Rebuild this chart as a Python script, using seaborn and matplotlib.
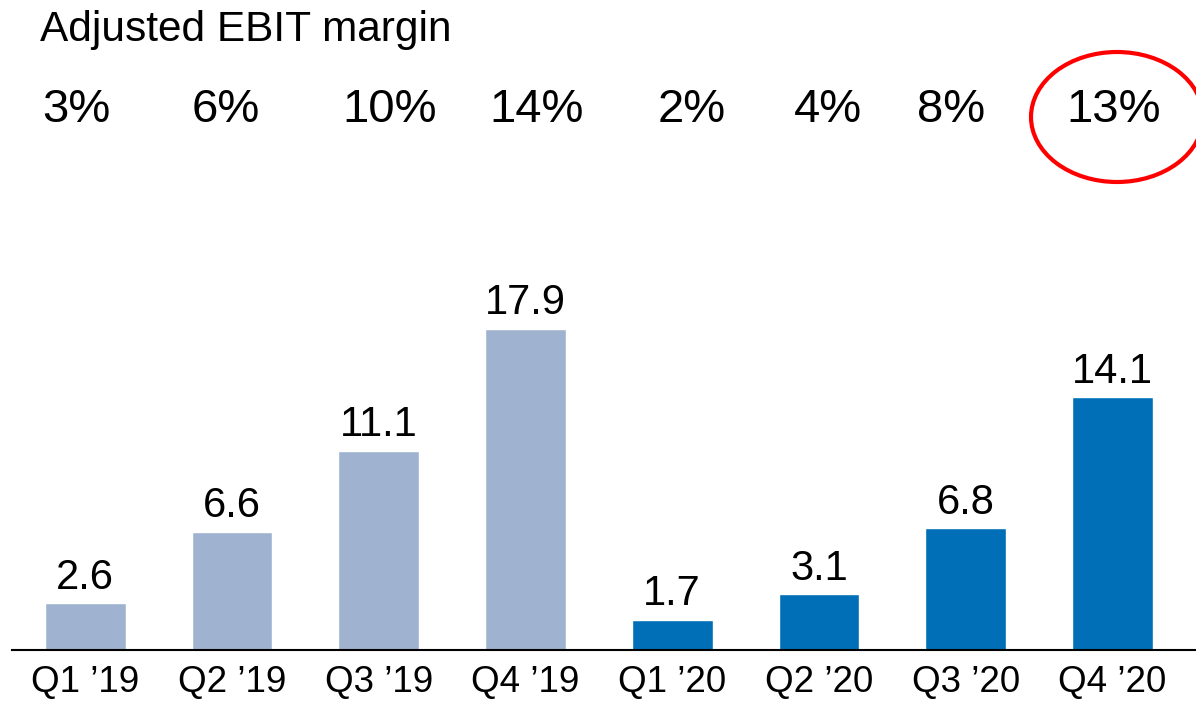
import matplotlib
matplotlib.use("Agg")
import matplotlib.pyplot as plt
from matplotlib.patches import Ellipse
import pandas as pd
import seaborn as sns

# --- datos ---
quarters = ["Q1 \u201919", "Q2 \u201919", "Q3 \u201919", "Q4 \u201919",
            "Q1 \u201920", "Q2 \u201920", "Q3 \u201920", "Q4 \u201920"]
ebit = [2.6, 6.6, 11.1, 17.9, 1.7, 3.1, 6.8, 14.1]
year = ["2019"] * 4 + ["2020"] * 4
margins = ["3%", "6%", "10%", "14%", "2%", "4%", "8%", "13%"]
margin_x_px = [76, 226, 390, 537, 692, 828, 951, 1114]

colors = {"2019": "#9FB2CF", "2020": "#006FB8"}

sns.set_style("white")
plt.rcParams["font.family"] = ["Liberation Sans", "DejaVu Sans"]
plt.rcParams["text.color"] = "black"
plt.rcParams["xtick.color"] = "black"

W, H = 1196, 701
fig = plt.figure(figsize=(W / 100, H / 100), dpi=100)
ax = fig.add_axes([12 / W, 51 / H, 1 - 12 / W, 650 / H])

df = pd.DataFrame({"q": quarters, "v": ebit, "y": year})
sns.barplot(data=df, x="q", y="v", hue="y", palette=colors, dodge=False,
            width=0.55, legend=False, ax=ax, saturation=1)

ax.set_xlim(-0.5, 7.57)
ax.set_ylim(0, 650 / 17.93)
for c in ax.containers:
    ax.bar_label(c, fmt="%.1f", padding=4, fontsize=30, color="black")

ax.set_xlabel("")
ax.set_ylabel("")
ax.set_yticks([])
ax.tick_params(axis="x", length=0, labelsize=26.5, pad=11, labelcolor="black")
for s in ["top", "right", "left"]:
    ax.spines[s].set_visible(False)
ax.spines["bottom"].set_color("black")
ax.spines["bottom"].set_linewidth(1.5)

# --- margen EBIT ---
fig.text(40 / W, 1 - 30 / H, "Adjusted EBIT margin", fontsize=30.5,
         ha="left", va="center")
for xp, m in zip(margin_x_px, margins):
    fig.text(xp / W, 1 - 110 / H, m, fontsize=34, ha="center", va="center")

ell = Ellipse((1117 / W, 1 - 117 / H), 172 / W, 130 / H,
              transform=fig.transFigure, fill=False, edgecolor="#FF0000",
              linewidth=3)
fig.patches.append(ell)

fig.savefig("out.png", dpi=100)
